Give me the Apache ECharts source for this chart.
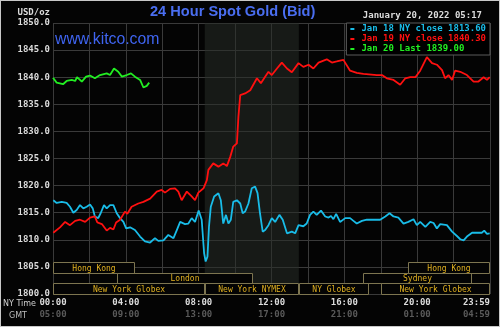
<!DOCTYPE html>
<html>
<head>
<meta charset="utf-8">
<script src="https://cdn.jsdelivr.net/npm/echarts@6/dist/echarts.min.js"></script>
<style>
  html, body { margin: 0; padding: 0; background: #040404; }
  #chart { position: absolute; left: 0; top: 0; width: 500px; height: 327px; }
  #frame { position: absolute; left: 0; top: 0; width: 498px; height: 325px; border: 1px solid #c8c8c8; pointer-events: none; }
</style>
</head>
<body>
<div id="chart"></div>
<div id="frame"></div>
<script>
// ---- data (times in minutes after 00:00 NY time) ----
const jan18Times = [1,12,29,45,56,67,78,89,100,111,122,131,138,149,157,168,177,188,199,210,221,232,241,254,270,287,303,320,336,347,364,380,397,408,419,435,446,457,468,480,490,498,503,509,514,520,531,545,553,561,570,578,586,594,606,617,625,633,644,655,666,674,682,691,699,710,721,732,746,757,771,787,798,809,825,836,847,858,869,883,897,908,916,924,933,946,963,979,990,1001,1018,1034,1078,1095,1109,1122,1138,1155,1171,1188,1199,1210,1227,1243,1254,1265,1276,1298,1315,1331,1342,1353,1364,1381,1413,1421,1430,1439];
const jan18Values = [1817.3,1816.8,1817.0,1816.8,1816.1,1815.0,1815.5,1816.4,1815.8,1816.1,1816.5,1815.8,1814.3,1814.0,1814.9,1816.4,1815.8,1816.4,1816.4,1814.9,1814.0,1813.3,1812.1,1812.3,1811.8,1810.6,1809.7,1809.5,1810.3,1809.8,1809.9,1810.9,1810.3,1811.8,1813.3,1812.9,1813.0,1814.0,1813.3,1815.4,1813.7,1807.5,1806.0,1806.9,1812.4,1816.1,1818.0,1818.6,1817.3,1813.0,1814.6,1813.0,1813.7,1817.0,1817.3,1816.7,1814.9,1815.2,1816.7,1819.5,1819.8,1818.6,1814.9,1811.5,1811.8,1812.7,1814.0,1813.3,1814.6,1813.7,1811.2,1811.5,1811.2,1812.7,1812.5,1813.0,1814.6,1815.2,1814.6,1815.4,1814.3,1814.1,1814.4,1813.8,1814.8,1813.3,1814.0,1814.0,1813.5,1813.0,1813.5,1813.7,1813.7,1814.3,1814.9,1814.3,1814.1,1813.0,1813.3,1813.8,1812.7,1813.3,1812.4,1813.3,1813.1,1812.1,1812.9,1812.7,1811.5,1810.7,1810.1,1809.9,1810.6,1811.3,1811.3,1811.7,1811.1,1811.2];

const jan19Times = [1,23,40,56,73,89,106,122,138,146,161,177,188,199,208,221,237,245,259,281,298,320,342,358,369,386,402,413,424,441,457,468,479,496,501,507,512,528,545,561,573,584,594,606,611,617,633,650,660,672,677,685,699,710,721,738,754,771,787,809,825,842,858,875,902,919,935,957,979,1001,1023,1067,1084,1100,1122,1144,1161,1177,1194,1210,1232,1249,1265,1282,1292,1303,1315,1325,1342,1364,1386,1402,1419,1430,1439];
const jan19Values = [1811.3,1812.3,1813.3,1812.7,1813.5,1813.7,1813.3,1814.1,1814.3,1813.2,1812.9,1811.7,1812.2,1811.9,1813.2,1813.7,1815.2,1814.8,1816.1,1816.7,1817.0,1817.6,1818.9,1819.2,1818.7,1819.4,1819.5,1818.9,1817.3,1818.9,1818.0,1817.3,1818.7,1819.5,1819.8,1821.0,1822.9,1824.1,1823.5,1824.1,1823.6,1825.3,1827.2,1827.8,1832.7,1836.7,1837.0,1837.6,1838.6,1839.8,1840.1,1838.9,1840.1,1841.0,1840.4,1841.6,1842.7,1841.6,1840.9,1842.6,1841.9,1842.3,1841.6,1842.7,1843.3,1842.7,1842.9,1843.2,1841.2,1840.8,1840.6,1840.4,1840.4,1839.8,1839.5,1838.6,1839.8,1840.0,1840.0,1841.2,1843.7,1842.6,1842.3,1841.3,1839.8,1840.4,1839.5,1841.2,1841.0,1840.4,1839.2,1839.2,1840.0,1839.5,1840.0];

const jan20Times = [0,12,33,45,62,73,79,95,109,122,138,155,177,188,201,215,227,243,257,270,287,298,309,317];
const jan20Values = [1839.9,1839.0,1838.7,1839.3,1839.5,1839.3,1840.0,1839.2,1840.1,1840.3,1839.8,1840.4,1840.7,1840.4,1841.6,1841.0,1840.1,1840.4,1840.7,1840.1,1839.5,1838.1,1838.4,1839.0];

const seriesNames = ['Jan 18 NY close 1813.60', 'Jan 19 NY close 1840.30', 'Jan 20 Last 1839.00'];

const nyTickLabels = ['00:00','04:00','08:00','12:00','16:00','20:00','23:59'];
const gmtTickLabels = ['05:00','09:00','13:00','17:00','21:00','01:00','04:59'];

const nymexStart = 500, nymexEnd = 810;

const sessionNames  = ['Hong Kong','London','New York Globex','New York NYMEX','NY Globex','Sydney','New York Globex','Hong Kong'];
const sessionStarts = [0, 210, 0, 500, 810, 1020, 1080, 1170];
const sessionEnds   = [270, 660, 500, 810, 1040, 1380, 1440, 1440];
const sessionRows   = [2, 1, 0, 0, 0, 1, 0, 2];

const titleText = '24 Hour Spot Gold (Bid)';
const siteText = 'www.kitco.com';
const dateText = 'January 20, 2022 05:17';

// ---- build ----
const pair = (t, v) => t.map((x, i) => [x, v[i]]);
const colors = ['#19bce8', '#ff1010', '#22ee22'];
const mono = 'DejaVu Sans Mono';
const ROW_H = 1.95;

const chart = echarts.init(document.getElementById('chart'), null, { renderer: 'canvas' });

const lineSeries = (name, data, color) => ({
  name, type: 'line', data, showSymbol: false, symbol: 'none', z: 3,
  lineStyle: { color, width: 1.8 }, itemStyle: { color }, animation: false
});

chart.setOption({
  backgroundColor: '#040404',
  animation: false,
  title: [
    { text: titleText, left: 150, top: 4, padding: 0,
      textStyle: { color: '#4a6ef0', fontFamily: 'Liberation Sans', fontWeight: 'bold', fontSize: 14.6 } },
    { text: siteText, left: 55, top: 32, padding: 0,
      textStyle: { color: '#3f64f0', fontFamily: 'Liberation Sans', fontWeight: 'normal', fontSize: 15.8 } }
  ],
  legend: {
    orient: 'vertical', right: 10, top: 23,
    backgroundColor: '#000', borderColor: '#5a5a5a', borderWidth: 1,
    padding: [1, 4, 1, 4], itemGap: 0, itemWidth: 4, itemHeight: 2, icon: 'rect',
    selectedMode: false,
    textStyle: { fontFamily: mono, fontSize: 9, fontWeight: 'bold', lineHeight: 10, padding: [0, 0, 0, 2] },
    data: seriesNames.map((n, i) => ({ name: n, textStyle: { color: colors[i] } }))
  },
  grid: { left: 53, top: 23, width: 437, height: 271, containLabel: false },
  xAxis: {
    type: 'value', min: 0, max: 1440, interval: 120,
    axisLine: { show: false }, axisTick: { show: false },
    splitLine: { show: true, lineStyle: { color: '#3a3a3a', width: 1 } },
    axisLabel: {
      margin: 3, showMinLabel: true, showMaxLabel: true, alignMaxLabel: 'right',
      formatter: v => {
        if (v % 240 !== 0 && v !== 1440) return '';
        const i = Math.round(v / 240);
        return '{a|' + nyTickLabels[i] + '}\n{b|' + gmtTickLabels[i] + '}';
      },
      rich: {
        a: { fontFamily: mono, fontSize: 9, fontWeight: 'bold', color: '#dcdcdc', lineHeight: 12 },
        b: { fontFamily: mono, fontSize: 9, fontWeight: 'bold', color: '#5a5a5a', lineHeight: 12 }
      }
    }
  },
  yAxis: {
    type: 'value', min: 1800, max: 1850, interval: 5,
    name: 'USD/oz', nameLocation: 'end', nameGap: 6,
    nameTextStyle: { fontFamily: mono, fontSize: 9, fontWeight: 'bold', color: '#dcdcdc', align: 'right', padding: [0, 3, 0, 0] },
    axisLine: { show: false }, axisTick: { show: false },
    splitLine: { show: true, lineStyle: { color: '#3a3a3a', width: 1 } },
    axisLabel: { margin: 3, fontFamily: mono, fontSize: 9, fontWeight: 'bold', color: '#dcdcdc',
      formatter: v => v.toFixed(1) }
  },
  graphic: [
    { type: 'text', right: 18, top: 11, style: { text: dateText, fill: '#dcdcdc', font: 'bold 9px "DejaVu Sans Mono"' } },
    { type: 'text', left: 3, top: 300, style: { text: 'NY Time', fill: '#cfcfcf', font: '8px "DejaVu Sans"' } },
    { type: 'text', left: 9, top: 312, style: { text: 'GMT', fill: '#bdbdbd', font: '8px "DejaVu Sans"' } }
  ],
  series: [
    { type: 'line', data: [], z: 1, silent: true,
      markArea: { silent: true, itemStyle: { color: 'rgba(40,46,40,0.55)' },
        data: [[{ xAxis: nymexStart }, { xAxis: nymexEnd }]] } },
    lineSeries(seriesNames[0], pair(jan18Times, jan18Values), colors[0]),
    lineSeries(seriesNames[1], pair(jan19Times, jan19Values), colors[1]),
    lineSeries(seriesNames[2], pair(jan20Times, jan20Values), colors[2]),
    {
      type: 'custom', z: 6, silent: true, clip: false,
      data: sessionNames.map((n, i) => [sessionStarts[i], sessionEnds[i], sessionRows[i]]),
      renderItem: (params, api) => {
        const s = api.value(0), e = api.value(1), r = api.value(2);
        const p1 = api.coord([s, 1800 + (r + 1) * ROW_H]);
        const p2 = api.coord([e, 1800 + r * ROW_H]);
        const x = Math.round(p1[0]) + 0.5, y = Math.round(p1[1]) + 0.5;
        const w = Math.round(p2[0]) - Math.round(p1[0]) - 1;
        const h = Math.round(p2[1]) - Math.round(p1[1]);
        return {
          type: 'group',
          children: [
            { type: 'rect', shape: { x, y, width: w, height: h },
              style: { fill: '#040404', stroke: '#7d7550', lineWidth: 1 } },
            { type: 'text', x: x + w / 2, y: y + h / 2 + 0.5,
              style: { text: sessionNames[params.dataIndex], fill: '#e0b020',
                font: '8px "DejaVu Sans Mono"', align: 'center', verticalAlign: 'middle' } }
          ]
        };
      }
    }
  ]
});
</script>
</body>
</html>
